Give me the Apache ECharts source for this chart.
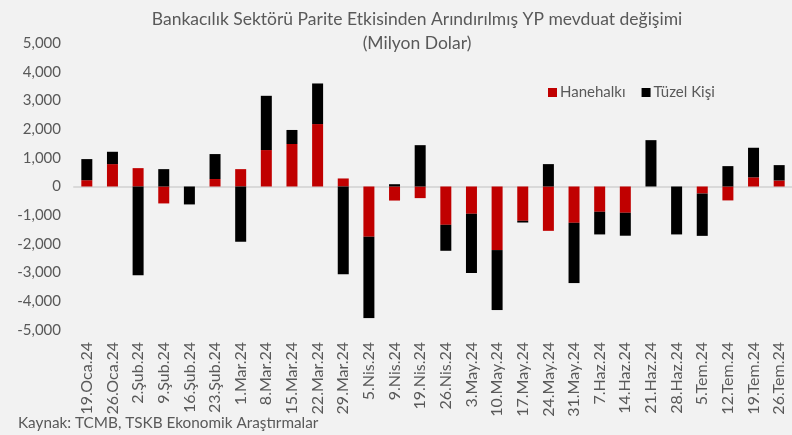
<!DOCTYPE html>
<html>
<head>
<meta charset="utf-8">
<script src="https://cdn.jsdelivr.net/npm/echarts@6/dist/echarts.min.js"></script>
<style>
  html, body { margin: 0; padding: 0; background: #f2f2f2; }
  #chart { width: 792px; height: 435px; }
</style>
</head>
<body>
<div id="chart"></div>
<script>
// weekly change, million USD
const categories = ['19.Oca.24', '26.Oca.24', '2.Şub.24', '9.Şub.24', '16.Şub.24', '23.Şub.24', '1.Mar.24',
  '8.Mar.24', '15.Mar.24', '22.Mar.24', '29.Mar.24', '5.Nis.24', '9.Nis.24', '19.Nis.24', '26.Nis.24',
  '3.May.24', '10.May.24', '17.May.24', '24.May.24', '31.May.24', '7.Haz.24', '14.Haz.24', '21.Haz.24',
  '28.Haz.24', '5.Tem.24', '12.Tem.24', '19.Tem.24', '26.Tem.24'];
const hanehalki = [220, 780, 640, -590, 0, 260, 605, 1270, 1480, 2175, 280, -1750, -490, -405, -1335,
  -950, -2215, -1195, -1545, -1265, -880, -915, 0, 0, -245, -485, 320, 210];
const tuzelKisi = [735, 430, -3090, 605, -625, 870, -1925, 1890, 490, 1415, -3055, -2835, 80, 1440, -905,
  -2065, -2090, -60, 780, -2100, -790, -800, 1615, -1670, -1475, 710, 1030, 535];

const font = 'Lato';
const grey = '#595959';

const chart = echarts.init(document.getElementById('chart'));
chart.setOption({
  backgroundColor: '#f2f2f2',
  textStyle: { fontFamily: font },
  animation: false,
  title: {
    text: 'Bankacılık Sektörü Parite Etkisinden Arındırılmış YP mevduat değişimi\n(Milyon Dolar)',
    left: 412,
    top: 2,
    textAlign: 'center',
    textStyle: { color: grey, fontSize: 17.5, fontWeight: 'normal', lineHeight: 24, fontFamily: font, align: 'center' }
  },
  legend: {
    left: 543,
    top: 80,
    itemWidth: 9,
    itemHeight: 9,
    itemGap: 16,
    icon: 'rect',
    textStyle: { color: grey, fontSize: 15, fontFamily: font, padding: [0, 0, 0, -2] },
    data: ['Hanehalkı', 'Tüzel Kişi']
  },
  grid: { left: 74, right: -5, top: 43, bottom: 105 },
  xAxis: [{
    type: 'category',
    data: categories,
    position: 'bottom',
    axisLine: { show: false, onZero: false },
    axisTick: { show: false },
    axisLabel: { rotate: 90, color: grey, fontSize: 16, margin: 12, interval: 0 }
  }, {
    type: 'category',
    data: categories,
    axisLine: { show: true, onZero: true, lineStyle: { color: '#d9d9d9', width: 2 } },
    axisTick: { show: false },
    axisLabel: { show: false }
  }],
  yAxis: {
    type: 'value',
    min: -5000,
    max: 5000,
    interval: 1000,
    splitLine: { show: false },
    axisLine: { show: false },
    axisTick: { show: false },
    axisLabel: {
      color: grey,
      fontSize: 15,
      margin: 13,
      formatter: v => v.toLocaleString('en-US')
    }
  },
  series: [{
    name: 'Hanehalkı',
    type: 'bar',
    stack: 'toplam',
    barWidth: 11,
    itemStyle: { color: '#c00000' },
    data: hanehalki
  }, {
    name: 'Tüzel Kişi',
    type: 'bar',
    stack: 'toplam',
    barWidth: 11,
    itemStyle: { color: '#000000' },
    data: tuzelKisi
  }],
  graphic: [{
    type: 'text',
    left: 18,
    top: 416,
    style: { text: 'Kaynak: TCMB, TSKB Ekonomik Araştırmalar', fill: grey, fontSize: 15.3, fontFamily: font }
  }]
});
</script>
</body>
</html>
